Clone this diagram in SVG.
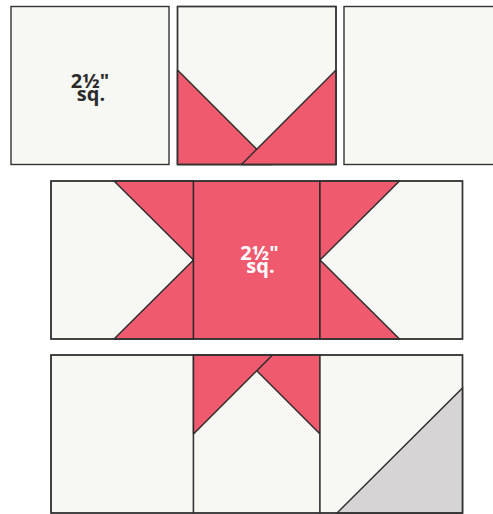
<svg xmlns="http://www.w3.org/2000/svg" width="493" height="514" viewBox="0 0 493 514">
<style>
.bg{fill:#f7f7f3;stroke:#333;stroke-width:1.4}
.red{fill:#ef5a6e;stroke:#2b2b2b;stroke-width:1.4;stroke-linejoin:round}
.gray{fill:#d6d4d5;stroke:#2b2b2b;stroke-width:1.4}
.lbl{font-family:"Open Sans","Liberation Sans",sans-serif;font-weight:bold;font-size:20px;text-anchor:middle}
</style>
<rect width="493" height="514" fill="#ffffff"/>
<g id="top-square-1">
<rect class="bg" x="11" y="6.5" width="158" height="158"/>
<text class="lbl" fill="#2b2b2b"><tspan x="90" y="88.3">2½"</tspan><tspan x="91" y="101">sq.</tspan></text>
</g>
<g id="top-square-2">
<rect class="bg" x="177.5" y="6.5" width="158.5" height="158"/>
<polygon class="red" points="177.5,70 177.5,164.5 272,164.5"/>
<polygon class="red" points="336,70 336,164.5 241.5,164.5"/>
<rect x="177.5" y="6.5" width="158.5" height="158" fill="none" stroke="#333" stroke-width="1.4"/>
</g>
<g id="top-square-3">
<rect class="bg" x="344" y="6.5" width="160" height="158"/>
</g>
<g id="middle-left">
<rect class="bg" x="51" y="181" width="142.5" height="158"/>
<polygon class="red" points="114,181 193.5,181 193.5,260"/>
<polygon class="red" points="193.5,260 193.5,339 114,339"/>
</g>
<g id="middle-center">
<rect class="red" x="193.5" y="181" width="126.5" height="158"/>
<text class="lbl" fill="#ffffff"><tspan x="259.5" y="260">2½"</tspan><tspan x="260.5" y="273">sq.</tspan></text>
</g>
<g id="middle-right">
<rect class="bg" x="320" y="181" width="142.5" height="158"/>
<polygon class="red" points="320,181 399.5,181 320,260"/>
<polygon class="red" points="320,260 320,339 399.5,339"/>
<rect x="51" y="181" width="411.5" height="158" fill="none" stroke="#333" stroke-width="1.4"/>
</g>
<g id="bottom-left">
<rect class="bg" x="51" y="355" width="142.5" height="158"/>
</g>
<g id="bottom-center">
<rect class="bg" x="193.5" y="355" width="126.5" height="158"/>
<polygon class="red" points="241,355 320,355 320,434"/>
<polygon class="red" points="193.5,355 272.5,355 193.5,434"/>
</g>
<g id="bottom-right">
<rect class="bg" x="320" y="355" width="142.5" height="158"/>
<polygon class="gray" points="462.5,388 462.5,513 337,513"/>
<rect x="51" y="355" width="411.5" height="158" fill="none" stroke="#333" stroke-width="1.4"/>
</g>
</svg>
